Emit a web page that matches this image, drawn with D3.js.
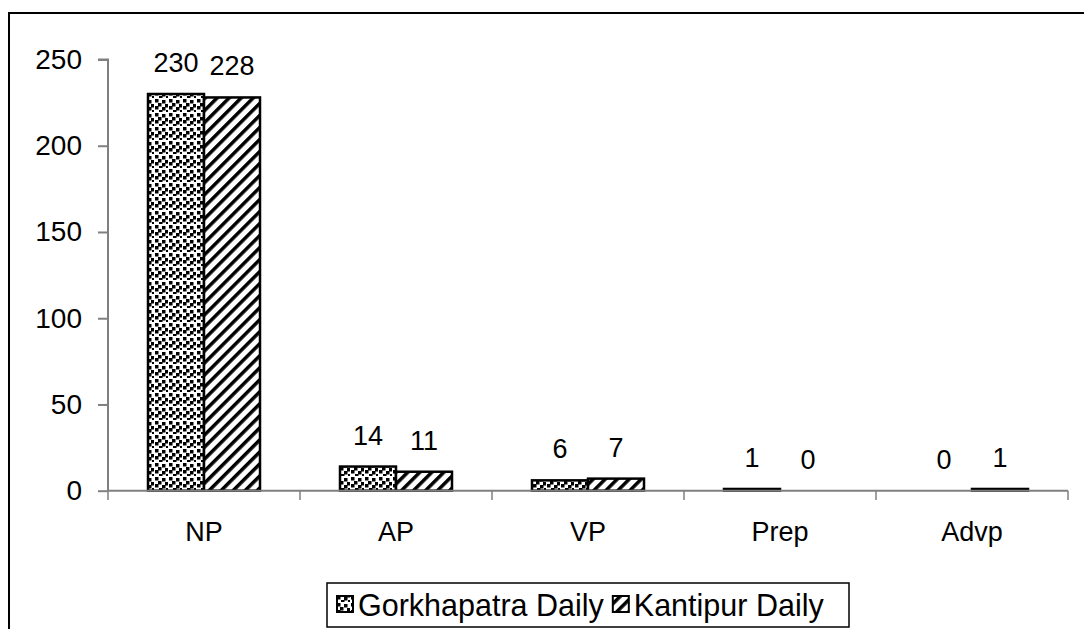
<!DOCTYPE html>
<html><head><meta charset="utf-8">
<script src="https://cdn.jsdelivr.net/npm/d3@7"></script>
<style>body{margin:0;background:#fff}svg{display:block}text{font-family:"Liberation Sans",Arial,sans-serif;fill:#000}</style>
</head><body><svg id="c" width="1084" height="629"></svg>
<script>
const categories = ["NP","AP","VP","Prep","Advp"];
const seriesNames = ["Gorkhapatra Daily","Kantipur Daily"];
const gorkhapatra = [230,14,6,1,0];
const kantipur = [228,11,7,0,1];
const yTicks = [0,50,100,150,200,250];

const svg = d3.select("#c");
const defs = svg.append("defs");
// dotted pattern
const pd = defs.append("pattern").attr("id","dots").attr("patternUnits","userSpaceOnUse").attr("width",14).attr("height",14);
pd.append("rect").attr("width",14).attr("height",14).attr("fill","#fff");
[[1,1],[8,2],[4,5],[11,6],[1,8],[8,9],[5,12],[12,12]].forEach(([x,y])=>pd.append("rect").attr("x",x).attr("y",y).attr("width",3.5).attr("height",3.5).attr("fill","#000"));
// diagonal stripes
const ps = defs.append("pattern").attr("id","stripes").attr("patternUnits","userSpaceOnUse").attr("width",8.5).attr("height",8.5).attr("patternTransform","rotate(45)");
ps.append("rect").attr("width",8.5).attr("height",8.5).attr("fill","#fff");
ps.append("rect").attr("x",0).attr("y",0).attr("width",3.5).attr("height",8.5).attr("fill","#000");
const fills = ["url(#dots)","url(#stripes)"];

// outer border
svg.append("rect").attr("x",9).attr("y",13).attr("width",1090).attr("height",640).attr("fill","none").attr("stroke","#000").attr("stroke-width",2);

const x0 = d3.scaleBand().domain(categories).range([108,1068]).paddingInner(0).paddingOuter(0);
const inner = 112;
const x1 = d3.scaleBand().domain(seriesNames).range([0,inner]);
const y = d3.scaleLinear().domain([0,250]).range([490.7,59.5]);

// y axis
const ya = svg.append("g").attr("transform","translate(108,0)").call(d3.axisLeft(y).tickValues(yTicks).tickSize(10).tickPadding(16));
ya.select(".domain").attr("stroke","#808080").attr("stroke-width",2).attr("d","M-10,59.5H0V490.7");
ya.selectAll(".tick line").attr("stroke","#808080").attr("stroke-width",2);
ya.selectAll(".tick text").attr("font-size",28).attr("font-family","Liberation Sans, Arial").attr("fill","#000");

const vals = [gorkhapatra,kantipur];
const groups = svg.append("g");
categories.forEach((c,i)=>{
  const gx = x0(c) + (x0.bandwidth()-inner)/2;
  seriesNames.forEach((s,j)=>{
    const v = vals[j][i];
    const bx = gx + x1(s);
    if (v>0) {
      groups.append("rect").attr("x",bx).attr("y",y(v)).attr("width",x1.bandwidth()).attr("height",Math.max(y(0)-y(v),1))
        .attr("fill",fills[j]).attr("stroke","#000").attr("stroke-width",2.5);
    }
    groups.append("text").attr("x",bx+x1.bandwidth()/2).attr("y",y(v)-22).attr("text-anchor","middle").attr("font-size",27).text(v);
  });
});

// x axis
const xa = svg.append("g").attr("transform","translate(0,490.7)").call(d3.axisBottom(x0).tickSize(0).tickPadding(0).tickFormat(""));
xa.select(".domain").attr("stroke","#808080").attr("stroke-width",2).attr("d","M108,0H1068");
xa.selectAll(".tick").remove();
const bounds = d3.range(categories.length+1).map(i=>108+i*x0.bandwidth());
svg.selectAll(".xt").data(bounds).enter().append("line").attr("x1",d=>d).attr("x2",d=>d).attr("y1",490.7).attr("y2",500).attr("stroke","#808080").attr("stroke-width",1.5);
svg.selectAll(".xl").data(categories).enter().append("text").attr("x",d=>x0(d)+x0.bandwidth()/2).attr("y",541).attr("text-anchor","middle").attr("font-size",27).text(d=>d);

// legend
const lg = svg.append("g");
lg.append("rect").attr("x",327).attr("y",583).attr("width",522).attr("height",44).attr("fill","#fff").attr("stroke","#000").attr("stroke-width",1.5);
let cx = 337;
seriesNames.forEach((s,j)=>{
  lg.append("rect").attr("x",cx).attr("y",596).attr("width",16).attr("height",16).attr("fill",fills[j]).attr("stroke","#000").attr("stroke-width",2);
  const t = lg.append("text").attr("x",cx+21).attr("y",616).attr("font-size",30.5).text(s);
  cx = cx + 21 + t.node().getComputedTextLength() + 9;
});
</script></body></html>
